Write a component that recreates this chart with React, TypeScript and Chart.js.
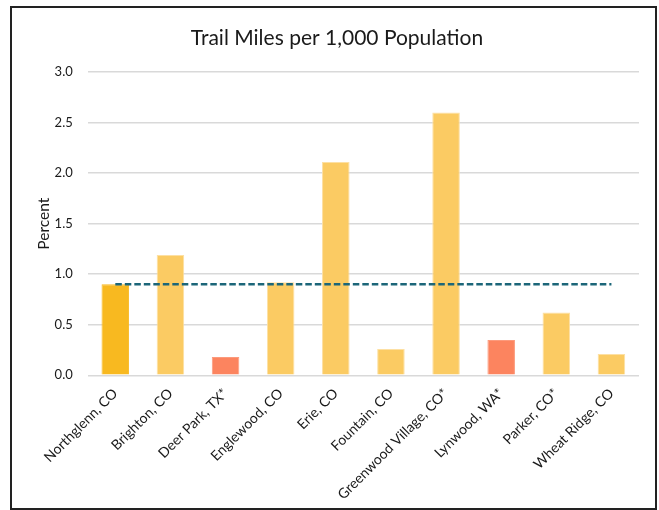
import React, { useEffect, useRef } from "react";
import { Chart, registerables } from "chart.js";

Chart.register(...registerables);

const categories = [
  "Northglenn, CO",
  "Brighton, CO",
  "Deer Park, TX*",
  "Englewood, CO",
  "Erie, CO",
  "Fountain, CO",
  "Greenwood Village, CO*",
  "Lynwood, WA*",
  "Parker, CO*",
  "Wheat Ridge, CO",
];
const trailMiles = [0.9, 1.19, 0.18, 0.92, 2.11, 0.26, 2.6, 0.35, 0.62, 0.21];
const averageValue = [0.9, 0.9, 0.9, 0.9, 0.9, 0.9, 0.9, 0.9, 0.9, 0.9];
const barColors = [
  "#F8B920",
  "#FBCB63",
  "#FC845F",
  "#FBCB63",
  "#FBCB63",
  "#FBCB63",
  "#FBCB63",
  "#FC845F",
  "#FBCB63",
  "#FBCB63",
];
const barBorders = [
  "#F8B920",
  "#FDE0A3",
  "#FC9A7C",
  "#FDE0A3",
  "#FDE0A3",
  "#FDE0A3",
  "#FDE0A3",
  "#FC9A7C",
  "#FDE0A3",
  "#FDE0A3",
];
const yTicks = [0, 0.5, 1, 1.5, 2, 2.5, 3];

const FONT = "Lato, 'Noto Sans', sans-serif";

export default function App() {
  const ref = useRef<HTMLCanvasElement | null>(null);
  useEffect(() => {
    if (!ref.current) return;
    const chart = new Chart(ref.current, {
      type: "bar",
      data: {
        labels: categories,
        datasets: [
          {
            type: "line",
            label: "Average",
            data: averageValue,
            borderColor: "#1C6679",
            borderWidth: 2.5,
            borderDash: [6.5, 3],
            pointRadius: 0,
            fill: false,
            order: 0,
          } as any,
          {
            type: "bar",
            label: "Trail Miles",
            data: trailMiles,
            backgroundColor: barColors,
            borderColor: barBorders,
            borderWidth: 1,
            categoryPercentage: 0.8,
            barPercentage: 0.625,
            order: 1,
          },
        ],
      },
      options: {
        animation: false,
        responsive: true,
        maintainAspectRatio: false,
        layout: { padding: { left: 23, right: 16, top: 18, bottom: 3 } },
        plugins: {
          legend: { display: false },
          tooltip: { enabled: false },
          title: {
            display: true,
            text: "Trail Miles per 1,000 Population",
            color: "#1a1a1a",
            font: { family: FONT, size: 21, weight: "normal" },
            padding: { top: 0, bottom: 21 },
          },
        },
        scales: {
          x: {
            grid: { display: false },
            border: { display: false },
            ticks: {
              color: "#1a1a1a",
              font: { family: FONT, size: 14 },
              maxRotation: 45,
              minRotation: 45,
              autoSkip: false,
              padding: 2,
            },
          },
          y: {
            min: 0,
            max: 3,
            afterBuildTicks: (axis: any) => {
              axis.ticks = yTicks.map((v) => ({ value: v }));
            },
            grid: { color: "#d9d9d9", lineWidth: 1.5, drawTicks: false },
            border: { display: false },
            ticks: {
              color: "#1a1a1a",
              font: { family: FONT, size: 13 },
              padding: 15,
              callback: (v: any) => Number(v).toFixed(1),
            },
            title: {
              display: true,
              text: "Percent",
              color: "#1a1a1a",
              font: { family: FONT, size: 15.5 },
              padding: { top: 0, bottom: -14 },
            },
          },
        },
      },
    });
    return () => chart.destroy();
  }, []);
  return (
    <div
      style={{
        position: "absolute",
        left: 10,
        top: 6,
        width: 643,
        height: 500,
        border: "2px solid #222",
        background: "#fff",
      }}
    >
      <canvas ref={ref} />
    </div>
  );
}
